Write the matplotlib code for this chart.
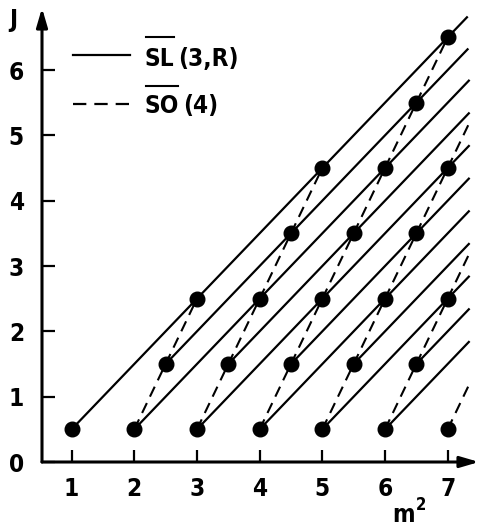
import matplotlib.pyplot as plt
from matplotlib.lines import Line2D
from matplotlib.transforms import IdentityTransform

W, H = 479, 527
FONT = {'family': 'DejaVu Sans', 'stretch': 'condensed', 'weight': 'bold', 'size': 17.5}

# estados (m^2, J)
m2_points = [1, 2, 2.5, 3, 3, 3.5, 4, 4.5, 5, 4, 4.5, 5, 5.5, 6, 6.5, 7,
             5, 5.5, 6, 6.5, 7, 6, 6.5, 7, 7]
j_points = [0.5, 0.5, 1.5, 2.5, 0.5, 1.5, 2.5, 3.5, 4.5, 0.5, 1.5, 2.5, 3.5, 4.5, 5.5, 6.5,
            0.5, 1.5, 2.5, 3.5, 4.5, 0.5, 1.5, 2.5, 0.5]

# trayectorias SL(3,R) (lineas solidas)
sl_m2_start = [1, 2.5, 2, 3.5, 3, 4.5, 4, 5.5, 5, 6.5, 6]
sl_j_start = [0.5, 1.5, 0.5, 1.5, 0.5, 1.5, 0.5, 1.5, 0.5, 1.5, 0.5]
sl_m2_end = [7.32, 7.33, 7.35, 7.35, 7.35, 7.35, 7.35, 7.35, 7.35, 7.35, 7.35]
sl_j_end = [6.82, 6.33, 5.85, 5.35, 4.85, 4.35, 3.85, 3.35, 2.85, 2.35, 1.85]

# multipletes SO(4) (lineas discontinuas)
so_m2_start = [2, 3, 4, 5, 6, 7]
so_j_start = [0.5, 0.5, 0.5, 0.5, 0.5, 0.5]
so_m2_end = [3, 5, 7, 7.37, 7.37, 7.37]
so_j_end = [2.5, 4.5, 6.5, 5.24, 3.24, 1.24]

x_ticks = [1, 2, 3, 4, 5, 6, 7]
y_ticks = [0, 1, 2, 3, 4, 5, 6]

DASH = (0, (5.3, 3.4))


def px(x, y):
    return x / W, 1 - y / H


fig = plt.figure(figsize=(W / 100, H / 100), dpi=100)
ax = fig.add_axes([42 / W, 65 / H, 1 - 42 / W, 1 - 65 / H - 8 / H])
ax.set_xlim(0.528, 7.5)
ax.set_ylim(0, 6.95)

for x0, y0, x1, y1 in zip(sl_m2_start, sl_j_start, sl_m2_end, sl_j_end):
    ax.plot([x0, x1], [y0, y1], color='k', lw=1.6, solid_capstyle='butt')

for x0, y0, x1, y1 in zip(so_m2_start, so_j_start, so_m2_end, so_j_end):
    ax.plot([x0, x1], [y0, y1], color='k', lw=1.5, linestyle=DASH)

ax.plot(m2_points, j_points, 'o', color='k', markersize=10.5, zorder=5)

# ejes con flechas
for spine in ax.spines.values():
    spine.set_visible(False)
arrow = dict(arrowstyle='-|>,head_length=0.75,head_width=0.22', lw=2.2, color='k',
             shrinkA=0, shrinkB=0, mutation_scale=15)
ax.annotate('', xy=(1, 0), xytext=(0, 0), xycoords='axes fraction',
            textcoords='axes fraction', arrowprops=arrow, annotation_clip=False)
ax.annotate('', xy=(0, 1), xytext=(0, 0), xycoords='axes fraction',
            textcoords='axes fraction', arrowprops=arrow, annotation_clip=False)

ax.set_xticks(x_ticks)
ax.set_yticks(y_ticks)
ax.tick_params(direction='in', length=9, width=1.6)
ax.tick_params(axis='x', pad=11)
ax.tick_params(axis='y', pad=13)
for lab in ax.get_xticklabels() + ax.get_yticklabels():
    lab.set_fontproperties(FONT)
    lab.set_fontsize(FONT['size'])

fig.text(*px(13, 20), 'J', ha='center', va='center', fontdict=FONT)

# leyenda
fig.add_artist(Line2D([73 / W, 130 / W], [1 - 55 / H] * 2, color='k', lw=1.6))
fig.add_artist(Line2D([73 / W, 130 / W], [1 - 104 / H] * 2, color='k', lw=1.6,
                      linestyle=(0, (6.0, 3.6))))

fig.canvas.draw()
renderer = fig.canvas.get_renderer()

m = fig.text(*px(404, 522), 'm', ha='center', va='baseline', fontdict=FONT)
mb = m.get_window_extent(renderer)
fig.text((mb.x1 + 1) / W, 1 - 510 / H, '2', ha='left', va='baseline',
         fontdict={**FONT, 'size': 12})

for name, rest, base, bar_y in [('SL', '(3,R)', 66, 37), ('SO', '(4)', 113, 86)]:
    t = fig.text(*px(145, base), name, ha='left', va='baseline', fontdict=FONT)
    bb = t.get_window_extent(renderer)
    fig.text(bb.x1 / W + 4 / W, 1 - base / H, rest, ha='left', va='baseline', fontdict=FONT)
    fig.add_artist(Line2D([bb.x0 + 1, bb.x1 - 1], [H - bar_y] * 2, color='k', lw=1.5,
                          transform=IdentityTransform()))

plt.savefig('out.png', dpi=100)
